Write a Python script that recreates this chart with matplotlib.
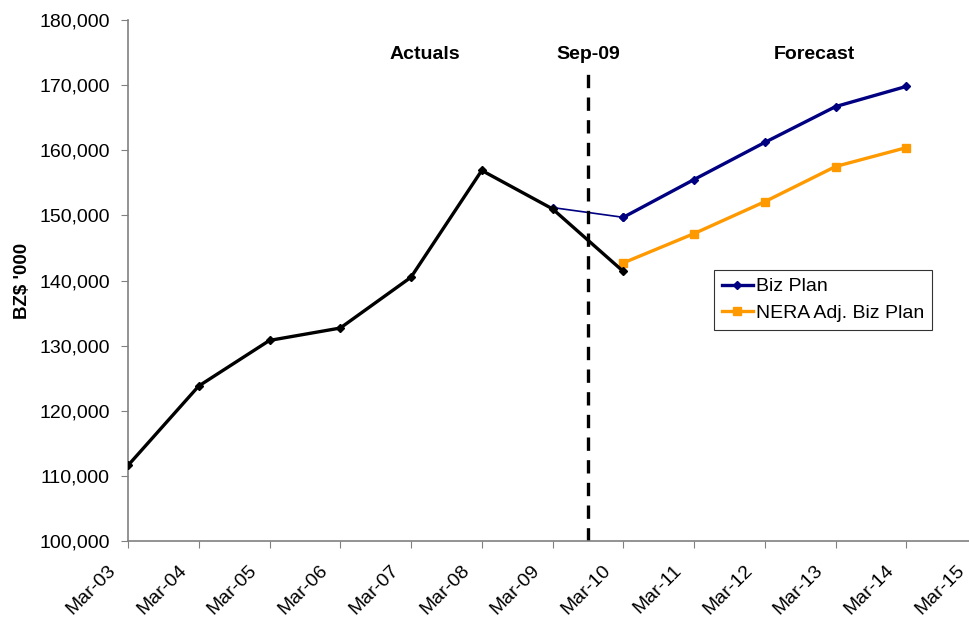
import matplotlib.pyplot as plt
import matplotlib.transforms as mtransforms
from matplotlib.ticker import FuncFormatter

plt.rcParams['font.family'] = ['Liberation Sans', 'DejaVu Sans']

# x axis categories
months = ["Mar-03", "Mar-04", "Mar-05", "Mar-06", "Mar-07", "Mar-08", "Mar-09",
          "Mar-10", "Mar-11", "Mar-12", "Mar-13", "Mar-14", "Mar-15"]

# actuals (Mar-03 .. Mar-10)
actuals = [111600, 123800, 130800, 132700, 140500, 156900, 151000, 141400]

# Biz Plan (Mar-09 .. Mar-14)
biz_plan = [151200, 149700, 155500, 161200, 166700, 169800]

# NERA adjusted (Mar-10 .. Mar-14)
nera = [142700, 147200, 152100, 157500, 160400]

sep09 = 6.5  # halfway between Mar-09 and Mar-10

fig = plt.figure(figsize=(9.69, 6.2), dpi=100)
ax = fig.add_axes([128/969, 1 - 541/620, (977 - 128)/969, (541 - 20)/620])

x_act = list(range(len(actuals)))
x_biz = list(range(6, 6 + len(biz_plan)))
x_nera = list(range(7, 7 + len(nera)))

ax.plot(x_act, actuals, color="black", lw=2.4, marker="D", ms=4.5, zorder=3)
# first Biz Plan segment is thin, the rest thick
ax.plot(x_biz[:2], biz_plan[:2], color="#000080", lw=1.2, marker="D", ms=4.5, zorder=2)
ax.plot(x_biz[1:], biz_plan[1:], color="#000080", lw=2.4, marker="D", ms=4.5, zorder=2)
ax.plot(x_nera, nera, color="#FF9900", lw=2.4, marker="s", ms=5.5, zorder=2)

# legend proxies
ax.plot([], [], color="#000080", lw=2.4, marker="D", ms=4.5, label="Biz Plan")
ax.plot([], [], color="#FF9900", lw=2.4, marker="s", ms=5.5, label="NERA Adj. Biz Plan")
leg = ax.legend(loc="upper left", bbox_to_anchor=((714 - 128)/849, 1 - (270 - 20)/521),
                fontsize=14, frameon=True, fancybox=False, edgecolor="black",
                borderpad=0.4, handlelength=1.6, handletextpad=0.15, labelspacing=0.45,
                borderaxespad=0)
leg.get_frame().set_linewidth(0.8)

ax.plot([sep09, sep09], [100000, 172700], color="black", lw=2.4, ls=(0, (4, 2.8)))

ax.text(4.2, 174700, "Actuals", ha="center", va="center", fontsize=14, fontweight="bold")
ax.text(sep09, 174700, "Sep-09", ha="center", va="center", fontsize=14, fontweight="bold")
ax.text(9.7, 174700, "Forecast", ha="center", va="center", fontsize=14, fontweight="bold")

ax.set_xlim(0, 12)
ax.set_ylim(100000, 180000)
ax.set_yticks(range(100000, 180001, 10000))
ax.yaxis.set_major_formatter(FuncFormatter(lambda v, p: "{:,.0f}".format(v)))
ax.set_xticks(range(len(months)))
ax.set_xticklabels(months, rotation=45, ha="right", rotation_mode="anchor")
ax.tick_params(axis="both", labelsize=14, color="#808080", length=5, direction="out")
ax.tick_params(axis="x", pad=10)
ax.tick_params(axis="y", pad=8)
ax.set_ylabel("BZ$ '000", fontsize=13.5, fontweight="bold")
ax.yaxis.set_label_coords(-(128 - 31)/849, 0.5)

# shift the rotated month labels to the left
shift = mtransforms.ScaledTranslation(-21/100, 0, fig.dpi_scale_trans)
for lab in ax.get_xticklabels():
    lab.set_transform(lab.get_transform() + shift)

for s in ["top", "right"]:
    ax.spines[s].set_visible(False)
for s in ["left", "bottom"]:
    ax.spines[s].set_color("#808080")
    ax.spines[s].set_linewidth(1.2)
    ax.spines[s].set_clip_on(False)

fig.savefig("out.png", dpi=100)
